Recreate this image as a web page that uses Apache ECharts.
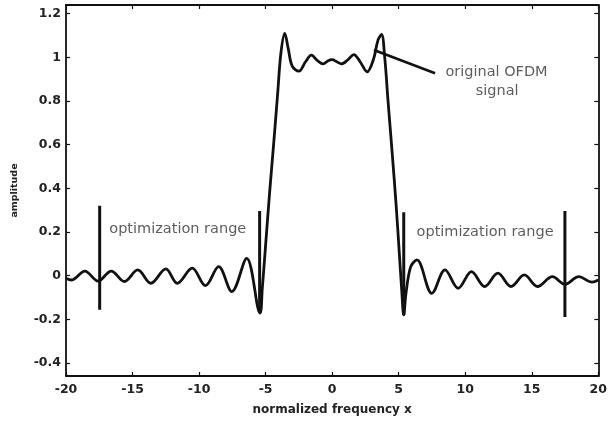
<!DOCTYPE html>
<html>
<head>
<meta charset="utf-8">
<script src="https://cdn.jsdelivr.net/npm/echarts@6/dist/echarts.min.js"></script>
<style>html,body{margin:0;padding:0;background:#fff}#c{width:610px;height:423px}</style>
</head>
<body>
<div id="c"></div>
<script>
// Signal curve
const freqX = [-20, -19.6, -18.58, -17.59, -16.60, -15.61, -14.61, -13.62, -12.50, -11.64, -10.52, -9.52, -8.53, -7.54, -6.42, -5.42,
  -5.25, -5.0, -4.7, -4.4, -4.1, -3.85, -3.56, -3.3, -3.0, -2.5, -2.0, -1.56, -1.1, -0.68, -0.3, 0, 0.35, 0.7, 1.2, 1.63, 2.1, 2.63,
  3.1, 3.45, 3.71, 3.95, 4.2, 4.5, 4.8, 5.05, 5.22, 5.38, 5.55, 5.9, 6.37, 7.49, 8.48, 9.47, 10.47, 11.46, 12.45, 13.44, 14.44,
  15.43, 16.55, 17.49, 18.53, 19.53, 20];
const amplitude = [-0.012, -0.02, 0.021, -0.025, 0.021, -0.027, 0.026, -0.035, 0.031, -0.035, 0.034, -0.046, 0.041, -0.073, 0.079, -0.172,
  -0.06, 0.14, 0.38, 0.6, 0.83, 1.02, 1.11, 1.04, 0.96, 0.937, 0.98, 1.01, 0.985, 0.97, 0.985, 0.99, 0.98, 0.97, 0.99, 1.013, 0.98, 0.934,
  0.99, 1.08, 1.105, 1.0, 0.8, 0.57, 0.33, 0.1, -0.06, -0.18, -0.08, 0.04, 0.072, -0.081, 0.026, -0.058, 0.018, -0.05, 0.011, -0.05, 0.003,
  -0.05, -0.005, -0.04, -0.005, -0.03, -0.02];

// Optimization range markers
const markerX = [-17.47, -5.45, 5.38, 17.49];
const markerTop = [0.32, 0.296, 0.29, 0.296];
const markerBottom = [-0.157, -0.17, -0.18, -0.19];

// Annotations
const annoTexts = ['optimization range', 'optimization range', 'original OFDM', 'signal'];
const annoX = [-11.6, 11.49, 12.35, 12.4];
const annoY = [0.212, 0.201, 0.93, 0.846];
const pointerX = [3.14, 7.73];
const pointerY = [1.034, 0.927];

// Ticks
const xTicks = [-20, -15, -10, -5, 0, 5, 10, 15, 20];
const yTicks = [-0.4, -0.2, 0, 0.2, 0.4, 0.6, 0.8, 1, 1.2];

const chart = echarts.init(document.getElementById('c'), null, {renderer: 'canvas'});

const axisLine = {show: true, onZero: false, lineStyle: {color: '#111', width: 1.8}};
const tick = {show: true, inside: true, length: 4, lineStyle: {color: '#111', width: 1.2}};
const labelFont = {fontFamily: 'DejaVu Sans', fontWeight: 'bold', fontSize: 12.5, color: '#222'};

const series = [];
series.push({
  type: 'line', name: 'signal', xAxisIndex: 0, yAxisIndex: 0,
  data: freqX.map((x, i) => [x, amplitude[i]]),
  showSymbol: false, symbol: 'none', smooth: 0.35,
  lineStyle: {color: '#111', width: 2.8}, silent: true, z: 3
});
markerX.forEach((x, i) => {
  series.push({
    type: 'line', xAxisIndex: 0, yAxisIndex: 0,
    data: [[x, markerTop[i]], [x, markerBottom[i]]],
    showSymbol: false, symbol: 'none',
    lineStyle: {color: '#111', width: 3}, silent: true, z: 4
  });
});
series.push({
  type: 'line', xAxisIndex: 0, yAxisIndex: 0,
  data: pointerX.map((x, i) => [x, pointerY[i]]),
  showSymbol: false, symbol: 'none',
  lineStyle: {color: '#111', width: 2.6}, silent: true, z: 4
});
series.push({
  type: 'scatter', xAxisIndex: 0, yAxisIndex: 0,
  data: annoX.map((x, i) => ({value: [x, annoY[i]], name: annoTexts[i]})),
  symbolSize: 0, silent: true, z: 5,
  label: {show: true, position: 'inside', formatter: p => p.name,
    fontFamily: 'DejaVu Sans', fontSize: 14.5, color: '#333'}
});

chart.setOption({
  animation: false,
  backgroundColor: '#fff',
  grid: {left: 66, right: 7, top: 5, bottom: 47, containLabel: false},
  xAxis: [
    {type: 'value', position: 'bottom', min: -20, max: 20, interval: 5,
     axisLine: axisLine, axisTick: tick, splitLine: {show: false},
     axisLabel: Object.assign({show: true, margin: 7, formatter: v => xTicks.includes(v) ? String(v) : ''}, labelFont),
     name: 'normalized frequency x', nameLocation: 'middle', nameGap: 28,
     nameTextStyle: {fontFamily: 'DejaVu Sans', fontWeight: 'bold', fontSize: 12, color: '#222'}},
    {type: 'value', position: 'top', min: -20, max: 20, interval: 5,
     axisLine: axisLine, axisTick: tick, splitLine: {show: false}, axisLabel: {show: false}}
  ],
  yAxis: [
    {type: 'value', position: 'left', min: -0.46, max: 1.24,
     axisLine: axisLine, splitLine: {show: false},
     axisTick: Object.assign({customValues: yTicks}, tick),
     axisLabel: Object.assign({show: true, margin: 5, customValues: yTicks, formatter: v => String(Math.round(v * 10) / 10)}, labelFont),
     name: 'amplitude', nameLocation: 'middle', nameGap: 46, nameRotate: 90,
     nameTextStyle: {fontFamily: 'DejaVu Sans', fontWeight: 'bold', fontSize: 9.5, color: '#222'}},
    {type: 'value', position: 'right', min: -0.46, max: 1.24,
     axisLine: axisLine, splitLine: {show: false},
     axisTick: Object.assign({customValues: yTicks}, tick), axisLabel: {show: false}}
  ],
  series: series
});
</script>
</body>
</html>
